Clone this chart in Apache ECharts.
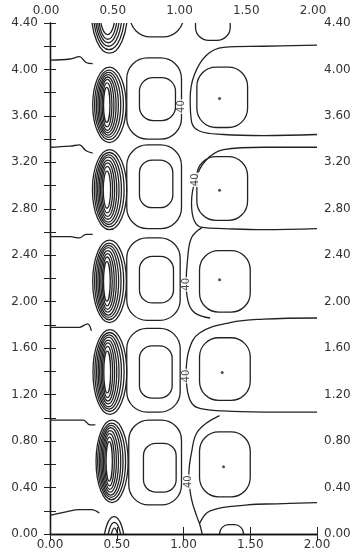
<!DOCTYPE html>
<html>
<head>
<meta charset="utf-8">
<script src="https://cdn.jsdelivr.net/npm/echarts/dist/echarts.min.js"></script>
<style>
  html, body { margin: 0; padding: 0; background: #fff; }
  #chart { width: 359px; height: 552px; }
</style>
</head>
<body>
<div id="chart"></div>
<script>
// Axis ranges and tick steps
const xRange = [0, 2];
const yRange = [0, 4.4];
const xStep = 0.5;
const yStep = 0.4;

// Closed contours as extents [xMin, xMax, yMin, yMax]
// Steep nested loops around x = 0.44: one bundle per cell, plus the ones cut by the frame
const coreLoops = [
  [0.310,0.580,4.14,4.86],[0.325,0.560,4.17,4.83],[0.338,0.540,4.20,4.80],
  [0.350,0.522,4.23,4.77],[0.362,0.505,4.26,4.74],[0.374,0.489,4.30,4.70],

  [0.320,0.570,3.370,4.020],[0.334,0.550,3.395,3.995],[0.347,0.530,3.415,3.975],[0.359,0.512,3.435,3.955],
  [0.370,0.495,3.455,3.935],[0.381,0.479,3.475,3.915],[0.391,0.464,3.505,3.885],[0.401,0.449,3.545,3.845],

  [0.318,0.575,2.620,3.310],[0.332,0.555,2.645,3.285],[0.345,0.535,2.665,3.265],[0.357,0.517,2.685,3.245],
  [0.368,0.500,2.710,3.220],[0.379,0.484,2.735,3.195],[0.389,0.469,2.765,3.165],[0.399,0.454,2.805,3.125],

  [0.320,0.572,1.820,2.530],[0.334,0.552,1.845,2.505],[0.347,0.532,1.865,2.485],[0.359,0.514,1.885,2.465],
  [0.370,0.497,1.910,2.440],[0.381,0.481,1.935,2.415],[0.391,0.466,1.965,2.385],[0.401,0.451,2.005,2.345],

  [0.322,0.575,1.030,1.760],[0.336,0.555,1.055,1.735],[0.349,0.535,1.075,1.715],[0.361,0.517,1.095,1.695],
  [0.372,0.500,1.120,1.670],[0.383,0.484,1.145,1.645],[0.393,0.469,1.175,1.615],[0.403,0.454,1.215,1.575],

  [0.345,0.585,0.270,0.980],[0.357,0.566,0.295,0.955],[0.369,0.547,0.315,0.935],[0.380,0.530,0.335,0.915],
  [0.390,0.513,0.360,0.890],[0.400,0.497,0.385,0.865],[0.410,0.482,0.415,0.835],[0.420,0.467,0.455,0.795],

  [0.400,0.560,-0.40,0.15],[0.430,0.535,-0.30,0.10],[0.455,0.510,-0.20,0.05]
];

// Rounded loops in the middle column (outer and inner per cell)
const midLoops = [
  [0.600,1.000,4.28,4.90],
  [0.575,0.985,3.40,4.10],[0.670,0.940,3.56,3.93],
  [0.575,0.985,2.63,3.35],[0.670,0.920,2.81,3.22],
  [0.575,0.975,1.84,2.55],[0.670,0.925,1.99,2.39],
  [0.575,0.975,1.05,1.77],[0.670,0.915,1.17,1.62],
  [0.590,0.985,0.25,0.98],[0.700,0.945,0.36,0.78]
];

// Rounded loops in the right column and their centre points
const sideLoops = [
  [1.090,1.350,4.25,4.70],
  [1.100,1.480,3.50,4.02],
  [1.100,1.480,2.70,3.25],
  [1.120,1.500,1.91,2.44],
  [1.120,1.500,1.15,1.69],
  [1.120,1.500,0.32,0.88],
  [1.270,1.450,-0.20,0.08]
];
const sidePeaks = [[1.27,3.75],[1.27,2.96],[1.27,2.19],[1.29,1.39],[1.30,0.58]];

// Open contours: bands from the left frame and lines reaching the right frame
const bandLines = [
  [[0,4.08],[0.15,4.09],[0.22,4.11],[0.27,4.06],[0.32,4.05]],
  [[0,3.33],[0.15,3.34],[0.22,3.35],[0.27,3.30],[0.32,3.28]],
  [[0,2.56],[0.15,2.56],[0.22,2.55],[0.27,2.58],[0.32,2.58]],
  [[0,1.78],[0.15,1.78],[0.22,1.78],[0.28,1.81],[0.31,1.75]],
  [[0,0.98],[0.15,0.98],[0.25,0.98],[0.30,0.94],[0.34,0.94]],
  [[0,0.16],[0.12,0.19],[0.22,0.21],[0.31,0.21],[0.37,0.18]],
  [[2.0,4.21],[1.6,4.20],[1.30,4.19],[1.17,4.12],[1.08,3.95],[1.05,3.75],[1.06,3.55],[1.12,3.47],[1.3,3.44],[1.6,3.43],[2.0,3.44]],
  [[2.0,3.33],[1.6,3.33],[1.30,3.31],[1.17,3.22],[1.09,3.05],[1.06,2.85],[1.08,2.70],[1.14,2.64],[1.3,2.63],[1.6,2.62],[2.0,2.63]],
  [[1.14,2.64],[1.06,2.55],[1.03,2.36],[1.02,2.15],[1.04,1.98],[1.09,1.90],[1.20,1.86]],
  [[2.0,1.86],[1.6,1.85],[1.35,1.82],[1.12,1.73],[1.04,1.58],[1.02,1.38],[1.04,1.18],[1.10,1.09],[1.3,1.06],[1.6,1.05],[2.0,1.05]],
  [[1.27,1.02],[1.11,0.89],[1.06,0.70],[1.04,0.50],[1.06,0.30],[1.10,0.15],[1.12,0.09],[1.14,0]],
  [[2.0,0.27],[1.70,0.26],[1.48,0.25],[1.20,0.20],[1.12,0.09]]
];

// Contour level labels [x, y, text]
const levelLabels = [[0.985,3.68,'40'],[1.09,3.05,'40'],[1.02,2.15,'40'],[1.02,1.36,'40'],[1.04,0.45,'40']];

const ink = '#222';
const inkWidth = 1.3;
const ELLIPSE = 'M0,50 A50,50 0 1,1 100,50 A50,50 0 1,1 0,50 Z';

function loopSeries(boxes, rounded) {
  return {
    type: 'custom', clip: true, silent: true, animation: false, z: 2,
    data: boxes,
    renderItem: (params, api) => {
      const a = api.coord([api.value(0), api.value(2)]);
      const b = api.coord([api.value(1), api.value(3)]);
      const x = a[0], y = b[1], w = b[0] - a[0], h = a[1] - b[1];
      const style = { fill: 'none', stroke: ink, lineWidth: inkWidth };
      if (rounded) {
        return { type: 'rect', shape: { x: x, y: y, width: w, height: h, r: Math.min(w, h) * 0.38 }, style: style };
      }
      return { type: 'path', shape: { pathData: ELLIPSE, x: x, y: y, width: w, height: h, layout: 'cover' }, style: style };
    }
  };
}

const series = [
  loopSeries(coreLoops, false),
  loopSeries(midLoops, true),
  loopSeries(sideLoops, true)
];
bandLines.forEach(p => series.push({
  type: 'line', data: p, smooth: 0.4, symbol: 'none',
  lineStyle: { color: ink, width: inkWidth }, silent: true, animation: false, z: 2
}));
series.push({
  type: 'scatter', data: sidePeaks, symbol: 'circle', symbolSize: 3,
  itemStyle: { color: '#222' }, silent: true, animation: false
});
series.push({
  type: 'scatter', data: levelLabels.map(d => [d[0], d[1]]), symbolSize: 0,
  label: {
    show: true, position: 'inside', rotate: 90, fontSize: 10, color: '#222',
    fontFamily: 'DejaVu Sans', backgroundColor: '#fff', padding: [0, 1],
    formatter: p => levelLabels[p.dataIndex][2]
  },
  silent: true, animation: false, z: 5
});

const fmt = v => v.toFixed(2);
const labelFont = { fontFamily: 'DejaVu Sans', fontSize: 12, color: '#333' };
function xAx(pos) {
  return {
    type: 'value', position: pos, min: xRange[0], max: xRange[1], interval: xStep,
    axisLine: { show: true, lineStyle: { color: '#111', width: 1.3 } },
    axisTick: { show: true, inside: true, length: 7, lineStyle: { color: '#222' } },
    axisLabel: Object.assign({ formatter: fmt, margin: pos === 'top' ? 6 : 5,
      padding: pos === 'top' ? [0, 8, 0, 0] : 0 }, labelFont),
    splitLine: { show: false }
  };
}
function yAx(pos) {
  return {
    type: 'value', position: pos, min: yRange[0], max: yRange[1], interval: yStep,
    axisLine: { show: true, lineStyle: { color: '#111', width: 1.3 } },
    axisTick: { show: true, inside: true, length: 6, lineStyle: { color: '#222' } },
    minorTick: { show: true, splitNumber: 2, length: 6, lineStyle: { color: '#222' } },
    axisLabel: Object.assign({ formatter: fmt, margin: pos === 'left' ? 12 : 7 }, labelFont),
    splitLine: { show: false }
  };
}

const chart = echarts.init(document.getElementById('chart'), null, { renderer: 'canvas' });
chart.setOption({
  animation: false,
  backgroundColor: '#fff',
  grid: { left: 50, right: 42, top: 23, bottom: 18 },
  xAxis: [xAx('bottom'), xAx('top')],
  yAxis: [yAx('left'), yAx('right')],
  series: series
});
</script>
</body>
</html>
